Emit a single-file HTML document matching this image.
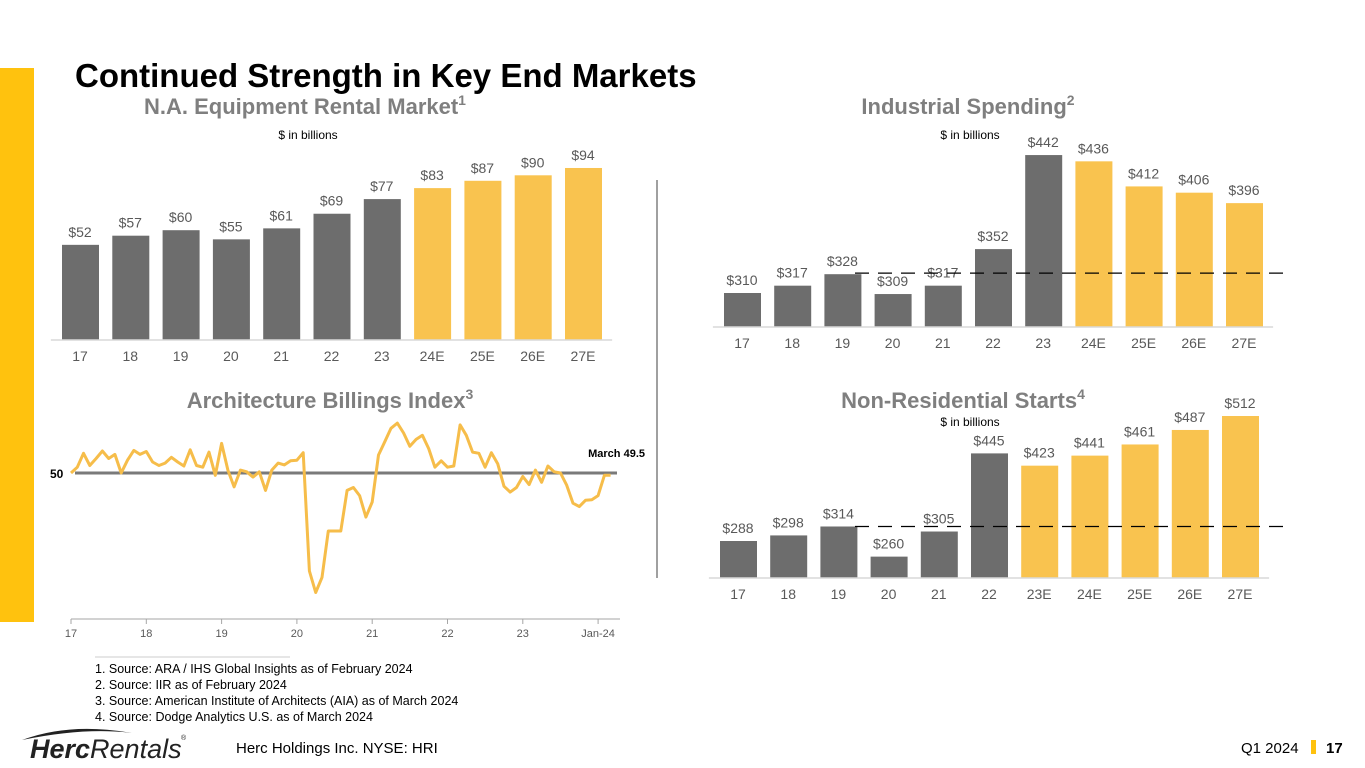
<!DOCTYPE html>
<html><head><meta charset="utf-8"><style>
body{margin:0;width:1365px;height:768px;background:#fff;overflow:hidden;font-family:"Liberation Sans",sans-serif}
svg{display:block}
</style></head><body>
<svg id="s" width="1365" height="768" viewBox="0 0 1365 768" xmlns="http://www.w3.org/2000/svg" font-family="Liberation Sans, sans-serif">
<rect x="0" y="68" width="34" height="554" fill="#ffc20e"/>
<text x="75" y="87" font-size="33" font-weight="bold" fill="#000">Continued Strength in Key End Markets</text>
<text x="305" y="114" font-size="22" font-weight="bold" fill="#7f7f7f" text-anchor="middle">N.A. Equipment Rental Market<tspan dy="-9" font-size="14">1</tspan></text>
<text x="308" y="139" font-size="12" fill="#000" text-anchor="middle">$ in billions</text>
<text x="968" y="114" font-size="22" font-weight="bold" fill="#7f7f7f" text-anchor="middle">Industrial Spending<tspan dy="-9" font-size="14">2</tspan></text>
<text x="970" y="139" font-size="12" fill="#000" text-anchor="middle">$ in billions</text>
<text x="330" y="408" font-size="22" font-weight="bold" fill="#7f7f7f" text-anchor="middle">Architecture Billings Index<tspan dy="-9" font-size="14">3</tspan></text>
<text x="963" y="408" font-size="22" font-weight="bold" fill="#7f7f7f" text-anchor="middle">Non-Residential Starts<tspan dy="-9" font-size="14">4</tspan></text>
<text x="970" y="426" font-size="12" fill="#000" text-anchor="middle">$ in billions</text>
<line x1="657" y1="180" x2="657" y2="578" stroke="#a0a0a0" stroke-width="2"/>
<g id="c1"></g>
<g id="c2"></g>
<g id="c3"></g>
<g id="c4"></g>
<line x1="95" y1="657" x2="290" y2="657" stroke="#ccc" stroke-width="1"/>
<g font-size="12.5" fill="#000">
<text x="95" y="673">1. Source: ARA / IHS Global Insights as of February 2024</text>
<text x="95" y="689">2. Source: IIR as of February 2024</text>
<text x="95" y="705">3. Source: American Institute of Architects (AIA) as of March 2024</text>
<text x="95" y="721">4. Source: Dodge Analytics U.S. as of March 2024</text>
</g>
<g>
<path d="M22 740 Q70 722 132 733 Q85 727 22 740Z" fill="#222"/>
<text x="30" y="758" font-size="27" font-style="italic" fill="#222"><tspan font-weight="bold">Herc</tspan>Rentals</text>
<text x="181" y="740" font-size="7" fill="#222">®</text>
</g>
<text x="236" y="753" font-size="15" fill="#000">Herc Holdings Inc.  NYSE: HRI</text>
<text x="1241" y="753" font-size="15" fill="#000">Q1 2024</text>
<rect x="1311" y="740" width="5" height="14" fill="#ffc20e"/>
<text x="1326" y="753" font-size="15" font-weight="bold" fill="#000">17</text>
</svg>
<script>
const NS="http://www.w3.org/2000/svg";
const rentalCats=["17","18","19","20","21","22","23","24E","25E","26E","27E"];
const rentalVals=[52,57,60,55,61,69,77,83,87,90,94];
const indCats=["17","18","19","20","21","22","23","24E","25E","26E","27E"];
const indVals=[310,317,328,309,317,352,442,436,412,406,396];
const indRef=329;
const nrCats=["17","18","19","20","21","22","23E","24E","25E","26E","27E"];
const nrVals=[288,298,314,260,305,445,423,441,461,487,512];
const nrRef=314;
const abiVals=[50,51,53.4,51.3,52.5,53.8,52.5,53.2,50,52.2,53.9,53.2,
53.7,51.9,51.3,51.7,52.7,51.9,51.2,54,51.3,51,53.6,49.6,
55.1,50.5,47.6,50.5,50.2,49.3,50.2,47,50.5,51.7,51.4,52.1,
52.2,53.5,33.1,29.4,32,40,40,40,47,47.5,46.1,42.4,
45,53.1,55.4,57.7,58.6,56.9,54.6,55.8,56.5,54.2,51,52.1,
51,51.2,58.3,56.5,53.6,53.4,51,53.5,51.6,47.7,46.7,47.5,
49.4,48,50.5,48.4,51.2,50.2,50,47.9,44.8,44.2,45.3,45.4,
46.1,49.6,49.6];
const abiTicks=["17","18","19","20","21","22","23","Jan-24"];
const abiRef=50;
const GRAY="#6d6d6d",YEL="#f9c34f";
function el(p,t,a){const e=document.createElementNS(NS,t);for(const k in a)e.setAttribute(k,a[k]);p.appendChild(e);return e;}
function bars(id,cats,vals,x0,step,base,y,nHist,ref,lx1){
 const g=document.getElementById(id);
 cats.forEach((c,i)=>{
  const cx=x0+i*step,top=y(vals[i]);
  const r=el(g,'rect',{x:cx-18,y:top,width:37,height:base-top,fill:i<nHist?GRAY:YEL});
  
  
  const t=el(g,'text',{x:cx,y:top-8,'font-size':14,fill:'#595959','text-anchor':'middle'});t.textContent='$'+vals[i];
  
  
  const a=el(g,'text',{x:cx,y:base+21,'font-size':14,fill:'#595959','text-anchor':'middle'});a.textContent=c;
  
  
 });
 const ax=el(g,'line',{x1:x0-step/2-4,x2:x0+(cats.length-0.5)*step+4,y1:base,y2:base,stroke:'#d9d9d9','stroke-width':1.5});
 
 
 if(ref!=null){const l=el(g,'line',{x1:lx1,x2:1290,y1:y(ref),y2:y(ref),stroke:'#000','stroke-width':1.3,'stroke-dasharray':'14,9'});
  
  }
}
bars('c1',rentalCats,rentalVals,80,50.3,340,v=>340-v*1.83,7,null);
bars('c2',indCats,indVals,742,50.2,327,v=>327-(34+(v-310)*1.045),7,indRef,855);
bars('c3',nrCats,nrVals,738,50.2,578,v=>578-(37+(v-288)*0.558),6,nrRef,855);
(function(){
 const g=document.getElementById('c4');
 const xYear=yr=>71+yr*75.3;
 const xm=i=>xYear(i/12);
 const y=v=>473+(abiRef-v)*5.8;
 const ax=el(g,'line',{x1:71,x2:620,y1:619,y2:619,stroke:'#a6a6a6','stroke-width':1});
 
 
 abiTicks.forEach((t,i)=>{const x=i<7?xYear(i):xYear(84/12);
  const tk=el(g,'line',{x1:x,x2:x,y1:619,y2:624,stroke:'#a6a6a6'});
  
  
  const tx=el(g,'text',{x:x,y:637,'font-size':11,fill:'#595959','text-anchor':'middle'});tx.textContent=t;
  
  });
 const rl=el(g,'line',{x1:75,x2:617,y1:y(abiRef),y2:y(abiRef),stroke:'#7a7a7a','stroke-width':3});
 
 
 const lb=el(g,'text',{x:50,y:y(abiRef)+5,'font-size':12,'font-weight':'bold',fill:'#000'});lb.textContent=String(abiRef);
 
 
 const pts=abiVals.map((v,i)=>xm(i).toFixed(1)+','+y(v).toFixed(1)).join(' ');
 const pl=el(g,'polyline',{points:pts,fill:'none',stroke:'#f6bd4a','stroke-width':3,'stroke-linejoin':'round'});
 
 
 const ml=el(g,'text',{x:645,y:457,'font-size':11,'font-weight':'bold',fill:'#000','text-anchor':'end'});ml.textContent='March 49.5';
 
 
})();
</script>
</body></html>
